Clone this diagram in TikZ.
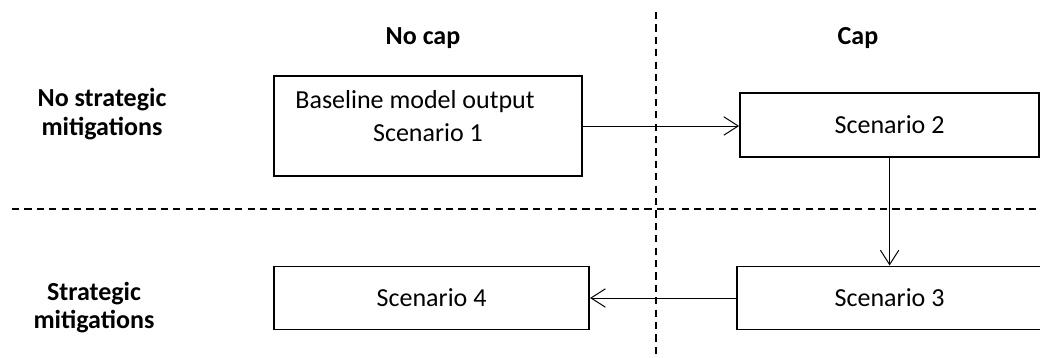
\documentclass[tikz,border=0pt]{standalone}
\usepackage{fontspec}
\setmainfont{Carlito}
\usetikzlibrary{arrows.meta,positioning}

\begin{document}
\begin{tikzpicture}[ > = {Straight Barb[length=3.6mm,width=4.6mm]}, font=\fontsize{18.5}{20.6}\selectfont, box/.style = {draw, line width=1.4pt, inner sep=0pt}, link/.style = {line width=0.7pt, ->}, divider/.style = {line width=0.8pt, dash pattern=on 1.8mm off 1.3mm}, heading/.style = {font=\fontsize{18.5}{20.6}\selectfont\bfseries, align=center}]

    \useasboundingbox (0,0) rectangle (26,8.95);

    % dividers
    \coordinate (vtop) at (16.4,8.65);
    \coordinate (vbot) at (16.4,0);
    \coordinate (hleft) at (0.3,3.725);
    \coordinate (hright) at (26,3.725);
    \draw[divider] (vtop) -- (vbot);
    \draw[divider] (hleft) -- (hright);

    % headings
    \node[heading] (nocap) at (10.575,8.0) {No cap};
    \node[heading] (cap) at (21.45,8.0) {Cap};
    \node[heading] (nomit) at (2.55,6.1) {No strategic\\mitigations};
    \node[heading] (mit) at (2.35,1.26) {Strategic\\mitigations};

    % scenarios
    \node[box, minimum width=7.7cm, minimum height=2.5cm] (s1) at (10.7,5.8) {};
    \node (s1base) at (10.375,6.4) {Baseline model output};
    \node (s1name) at (10.7,5.625) {Scenario 1};
    \node[box, minimum width=7.475cm, minimum height=1.6cm] (s2) at (22.24,5.825) {Scenario 2};
    \node[box, minimum width=7.625cm, minimum height=1.575cm] (s3) at (22.24,1.5) {Scenario 3};
    \node[box, minimum width=7.875cm, minimum height=1.575cm] (s4) at (10.79,1.5) {Scenario 4};

    % links
    \draw[link] (s1.east) -- (s1.east -| s2.west);
    \draw[link] (s2.south) -- (s3.north);
    \draw[link] (s3.west) -- (s3.west -| s4.east);

\end{tikzpicture}
\end{document}
